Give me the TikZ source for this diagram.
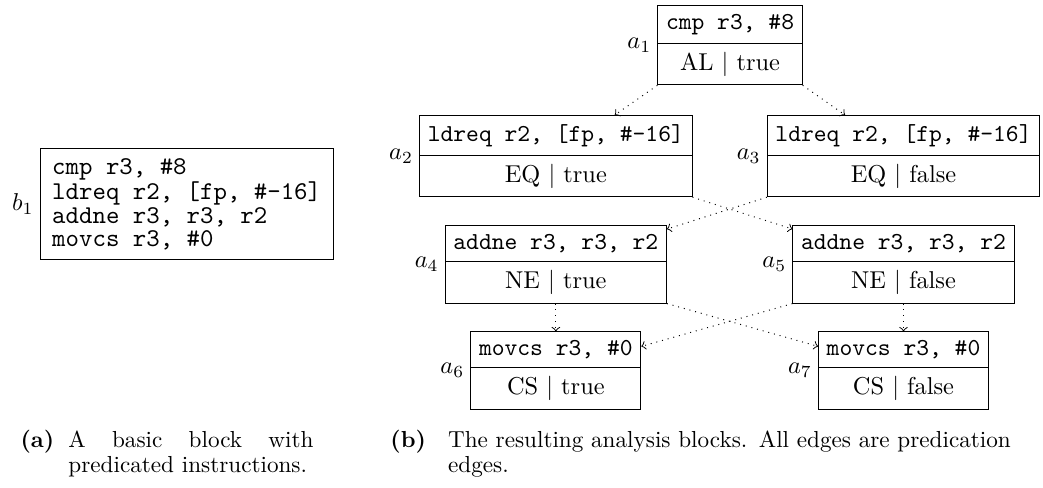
\documentclass[tikz,border=0pt]{standalone}
\usetikzlibrary{shapes.multipart}
\tikzset{
  ablock/.style = {rectangle split, rectangle split parts = 2, draw},
  pedge/.style = {->, dotted},
  captext/.style = {anchor = base west, inner sep = 0pt, font = \fontsize{9.5}{10.3}\selectfont}
}
\begin{document}
\begin{tikzpicture}[label distance = -1pt]
            \useasboundingbox (0, 0) rectangle (15.03, -7.02);
            \node [draw, align = left, font = \fontsize{10.5}{9.5}\selectfont\ttfamily, inner xsep = 4.9pt, minimum height = 1.61cm, label = left:$b_1$] (b1) at (2.69, -2.94) {cmp r3, \#8\\ldreq r2, [fp, \#-16]\\addne r3, r3, r2\\movcs r3, \#0};
            \node [ablock, label = left:$a_1$] (a1) at (10.52, -0.65) {\texttt{cmp r3, \#8} \nodepart{two} AL $|$ true};
            \node [ablock, label = left:$a_2$] (a2) at (8.01, -2.25) {\texttt{ldreq r2, [fp, \#-16]} \nodepart{two} EQ $|$ true};
            \node [ablock, label = left:$a_3$] (a3) at (13.02, -2.25) {\texttt{ldreq r2, [fp, \#-16]} \nodepart{two} EQ $|$ false};
            \node [ablock, label = left:$a_4$] (a4) at (8.01, -3.81) {\texttt{addne r3, r3, r2} \nodepart{two} NE $|$ true};
            \node [ablock, label = left:$a_5$] (a5) at (13.02, -3.81) {\texttt{addne r3, r3, r2} \nodepart{two} NE $|$ false};
            \node [ablock, label = left:$a_6$] (a6) at (8.01, -5.34) {\texttt{movcs r3, \#0} \nodepart{two} CS $|$ true};
            \node [ablock, label = left:$a_7$] (a7) at (13.02, -5.34) {\texttt{movcs r3, \#0} \nodepart{two} CS $|$ false};
            \draw [pedge] (a1.south west) -- (a2);
            \draw [pedge] (a1.south east) -- (a3);
            \draw [pedge] (a2.south east) -- (a5);
            \draw [pedge] (a3.south west) -- (a4);
            \draw [pedge] (a4) -- (a6);
            \draw [pedge] (a4.south east) -- (a7);
            \draw [pedge] (a5.south west) -- (a6);
            \draw [pedge] (a5) -- (a7);
            \node [captext, font = \fontsize{9.5}{10.3}\selectfont\bfseries] (capa) at (0.29, -6.45) {(a)};
            \node [captext, text width = 3.53cm, align = justify] (capatext) at (0.98, -6.45) {A basic block with\linebreak predicated instructions.};
            \node [captext, font = \fontsize{9.5}{10.3}\selectfont\bfseries] (capb) at (5.62, -6.45) {(b)};
            \node [captext, text width = 8.4cm, align = left] (capbtext) at (6.45, -6.45) {The resulting analysis blocks. All edges are predication\\edges.};
        \end{tikzpicture}
\end{document}
